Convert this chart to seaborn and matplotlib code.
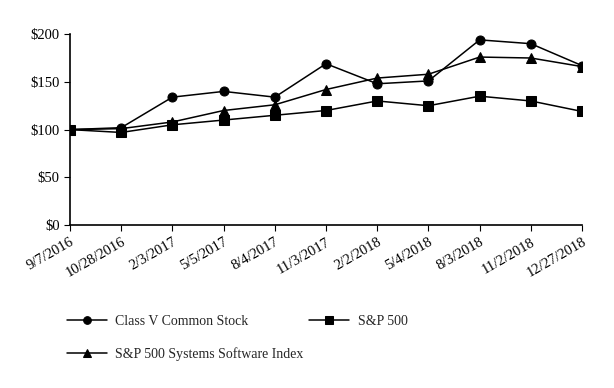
import pandas as pd
import matplotlib
matplotlib.use('Agg')
import matplotlib.pyplot as plt
import seaborn as sns

# --- Data ---
dates = ['9/7/2016', '10/28/2016', '2/3/2017', '5/5/2017', '8/4/2017', '11/3/2017',
         '2/2/2018', '5/4/2018', '8/3/2018', '11/2/2018', '12/27/2018']
class_v  = [100, 102, 134, 140, 134, 169, 148, 151, 194, 190, 167]
sp500    = [100, 97, 105, 110, 115, 120, 130, 125, 135, 130, 119]
software = [100, 101, 108, 120, 126, 142, 154, 158, 176, 175, 166]

series = {
    'Class V Common Stock': class_v,
    'S&P 500': sp500,
    'S&P 500 Systems Software Index': software,
}
df = pd.concat([pd.DataFrame({'idx': range(len(dates)), 'value': v, 'series': k})
                for k, v in series.items()])

# --- Plot ---
sns.set_style('ticks')
plt.rcParams['font.family'] = ['Liberation Serif', 'DejaVu Serif']

fig = plt.figure(figsize=(6.14, 3.88), dpi=100)
ax = fig.add_axes([0.114, 0.42, 0.834, 0.492])

sns.lineplot(data=df, x='idx', y='value', hue='series', style='series',
             palette=['black'] * 3, markers=['o', 's', '^'], dashes=False,
             markersize=6.5, markeredgecolor='black', linewidth=1.1, ax=ax)

ax.set_xlim(0, len(dates) - 1)
ax.set_ylim(0, 200)
ax.set_yticks([0, 50, 100, 150, 200])
ax.set_yticklabels(['$0', '$50', '$100', '$150', '$200'], fontsize=10.5)
ax.set_xticks(range(len(dates)))
ax.set_xticklabels(dates, rotation=30, ha='right', rotation_mode='anchor', fontsize=10.5)
ax.tick_params(axis='both', length=4, width=0.8, color='black', labelcolor='black')
ax.set_xlabel('')
ax.set_ylabel('')
for s in ['left', 'bottom']:
    ax.spines[s].set_color('black')
    ax.spines[s].set_linewidth(1.2)
sns.despine(ax=ax)

handles, labels = ax.get_legend_handles_labels()
ax.get_legend().remove()
order = [0, 2, 1]
fig.legend([handles[i] for i in order], [labels[i] for i in order],
           loc='upper left', bbox_to_anchor=(0.088, 0.22), ncol=2,
           frameon=False, fontsize=10, handlelength=2.9, handletextpad=0.6,
           columnspacing=0.4, labelspacing=1.35, markerscale=0.85)

plt.savefig('out.png', dpi=100)
